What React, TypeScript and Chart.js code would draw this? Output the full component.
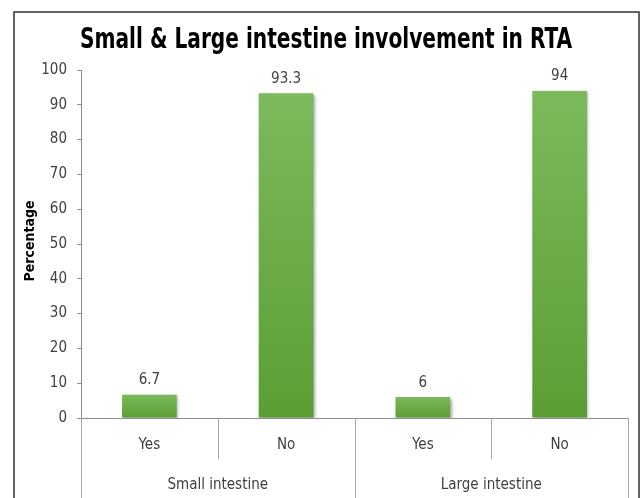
import React, { useEffect, useRef } from "react";
import { Chart, registerables } from "chart.js";

Chart.register(...registerables);

const titleText = "Small & Large intestine involvement in RTA";
const yAxisTitle = "Percentage";
const barLabels = ["Yes", "No", "Yes", "No"];
const groupLabels = ["Small intestine", "Large intestine"];
const groupSizes = [2, 2];
const values = [6.7, 93.3, 6, 94];
const yTicks = [0, 10, 20, 30, 40, 50, 60, 70, 80, 90, 100];

const FONT = "'Liberation Sans Narrow', 'DejaVu Sans Condensed', 'Liberation Sans', sans-serif";
const TEXT = "#404040";
const LINE = "#a6a6a6";

const decorPlugin = {
  id: "decor",
  beforeDatasetsDraw(chart: any) {
    const ctx = chart.ctx;
    ctx.save();
    ctx.shadowColor = "rgba(0,0,0,0.35)";
    ctx.shadowBlur = 3;
    ctx.shadowOffsetX = 1.5;
    ctx.shadowOffsetY = 1.5;
  },
  afterDatasetsDraw(chart: any) {
    const ctx = chart.ctx;
    ctx.restore();
    const meta = chart.getDatasetMeta(0);
    ctx.save();
    ctx.fillStyle = TEXT;
    ctx.font = `15px ${FONT}`;
    ctx.textAlign = "center";
    ctx.textBaseline = "bottom";
    meta.data.forEach((bar: any, i: number) => {
      ctx.fillText(String(values[i]), bar.x, bar.y - 7);
    });
    ctx.restore();
  },
  afterDraw(chart: any) {
    const ctx = chart.ctx;
    const xs = chart.scales.x;
    const area = chart.chartArea;
    const H = chart.height;
    ctx.save();
    // outer border
    ctx.strokeStyle = "#303030";
    ctx.lineWidth = 1.5;
    ctx.strokeRect(14, 12, 625, H + 20);
    // title, condensed horizontally to the reference width
    ctx.fillStyle = "#000";
    ctx.font = `bold 29px ${FONT}`;
    ctx.textAlign = "center";
    ctx.textBaseline = "middle";
    const w = ctx.measureText(titleText).width;
    const sx = Math.min(1, 492 / w);
    ctx.save();
    ctx.translate(326, 40);
    ctx.scale(sx, 1);
    ctx.fillText(titleText, 0, 0);
    ctx.restore();
    // y title
    ctx.save();
    ctx.translate(30, (area.top + area.bottom) / 2 - 3);
    ctx.rotate(-Math.PI / 2);
    ctx.font = `bold 14px ${FONT}`;
    ctx.fillStyle = "#000";
    ctx.fillText(yAxisTitle, 0, 0);
    ctx.restore();
    // category separators and labels
    const n = barLabels.length;
    const step = (area.right - area.left) / n;
    ctx.strokeStyle = LINE;
    ctx.lineWidth = 1;
    const bounds: number[] = [];
    for (let i = 0; i <= n; i++) bounds.push(xs.getPixelForValue(i) - step / 2);
    const groupEdges = new Set<number>();
    let acc = 0;
    groupEdges.add(0);
    groupSizes.forEach((s) => {
      acc += s;
      groupEdges.add(acc);
    });
    bounds.forEach((bx, i) => {
      const x = Math.round(bx) + 0.5;
      ctx.beginPath();
      ctx.moveTo(x, area.bottom);
      ctx.lineTo(x, groupEdges.has(i) ? H : area.bottom + 41);
      ctx.stroke();
    });
    ctx.fillStyle = TEXT;
    ctx.font = `15px ${FONT}`;
    ctx.textAlign = "center";
    ctx.textBaseline = "middle";
    barLabels.forEach((lab, i) => {
      ctx.fillText(lab, xs.getPixelForValue(i), area.bottom + 27);
    });
    let start = 0;
    groupLabels.forEach((g, gi) => {
      const end = start + groupSizes[gi];
      const cx = (bounds[start] + bounds[end]) / 2;
      ctx.fillText(g, cx, area.bottom + 67);
      start = end;
    });
    ctx.restore();
  },
};

export default function App() {
  const ref = useRef<HTMLCanvasElement | null>(null);
  useEffect(() => {
    if (!ref.current) return;
    const chart = new Chart(ref.current, {
      type: "bar",
      data: {
        labels: barLabels,
        datasets: [
          {
            data: values,
            backgroundColor: (c: any) => {
              const ch = c.chart;
              const ys = ch.scales?.y;
              if (!ys || !ch.chartArea || c.type !== "data") return "#6aab48";
              const v = values[c.dataIndex];
              const top = ys.getPixelForValue(v);
              const bottom = ys.getPixelForValue(0);
              const g = ch.ctx.createLinearGradient(0, top, 0, bottom);
              g.addColorStop(0, "#7cba5b");
              g.addColorStop(1, "#5a9e33");
              return g;
            },
            borderWidth: 0,
            barPercentage: 0.4,
            categoryPercentage: 1,
          },
        ],
      },
      options: {
        animation: false,
        responsive: true,
        maintainAspectRatio: false,
        layout: { padding: { left: 0, right: 13, top: 70, bottom: 0 } },
        plugins: {
          legend: { display: false },
          title: { display: false },
          tooltip: { enabled: false },
        },
        scales: {
          x: {
            grid: { display: false },
            border: { display: true, color: "#8c8c8c", width: 1 },
            ticks: { display: false },
            afterFit: (s: any) => {
              s.height = 80;
            },
          },
          y: {
            min: 0,
            max: 100,
            afterBuildTicks: (s: any) => {
              s.ticks = yTicks.map((v) => ({ value: v }));
            },
            grid: {
              drawOnChartArea: false,
              drawTicks: true,
              tickLength: 4,
              color: "#8c8c8c",
            },
            border: { display: true, color: "#8c8c8c", width: 1 },
            ticks: {
              padding: 10,
              color: TEXT,
              font: { family: FONT, size: 15 },
            },
            afterFit: (s: any) => {
              s.width = 81;
            },
          },
        },
      },
      plugins: [decorPlugin],
    });
    return () => chart.destroy();
  }, []);
  return (
    <div style={{ position: "absolute", left: 0, top: 0, width: 641, height: 498, background: "#fff" }}>
      <canvas ref={ref} />
    </div>
  );
}
